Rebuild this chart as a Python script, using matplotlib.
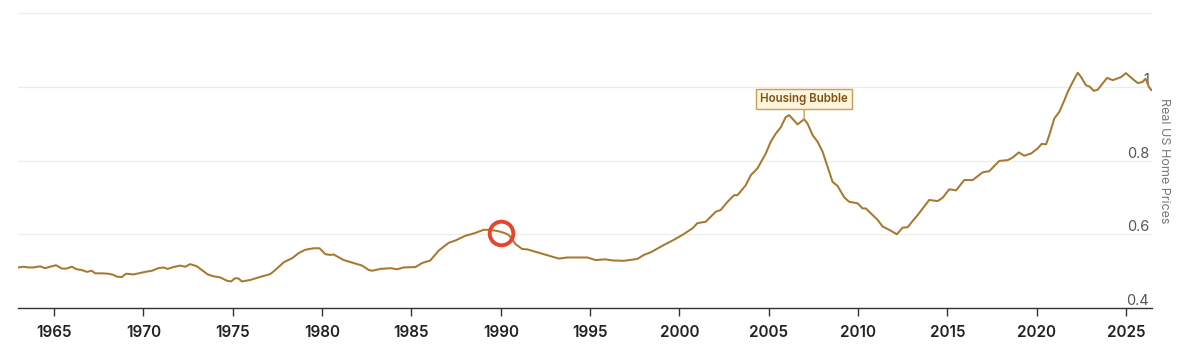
import matplotlib
matplotlib.use("Agg")
import matplotlib.pyplot as plt

years = [1963.00, 1963.28, 1963.56, 1963.84, 1964.22, 1964.50, 1964.78, 1965.11, 1965.43, 1965.71,
         1965.99, 1966.27, 1966.55, 1966.83, 1967.11, 1967.30, 1967.67, 1968.04, 1968.32, 1968.51,
         1968.79, 1969.03, 1969.44, 1969.72, 1970.10, 1970.47, 1970.84, 1971.12, 1971.35, 1971.68,
         1972.06, 1972.34, 1972.62, 1972.99, 1973.30, 1973.60, 1973.92, 1974.30, 1974.67, 1974.90,
         1975.14, 1975.32, 1975.51, 1975.98, 1976.44, 1977.10, 1977.38, 1977.85, 1978.32, 1978.69,
         1979.06, 1979.53, 1979.86, 1980.18, 1980.46, 1980.65, 1981.21, 1981.77, 1982.24, 1982.61,
         1982.80, 1983.26, 1983.82, 1984.20, 1984.57, 1985.22, 1985.60, 1986.06, 1986.53, 1987.09,
         1987.46, 1988.02, 1988.48, 1989.04, 1989.32, 1989.80, 1990.17, 1990.45, 1990.83, 1991.20,
         1991.48, 1992.04, 1992.60, 1993.25, 1993.72, 1994.28, 1994.84, 1995.31, 1995.87, 1996.24,
         1996.89, 1997.64, 1998.01, 1998.39, 1999.13, 1999.69, 2000.16, 2000.73, 2001.00, 2001.47,
         2002.03, 2002.31, 2002.69, 2003.06, 2003.25, 2003.71, 2003.99, 2004.37, 2004.83, 2005.11,
         2005.39, 2005.67, 2005.95, 2006.14, 2006.61, 2006.98, 2007.17, 2007.45, 2007.73, 2008.01,
         2008.29, 2008.57, 2008.85, 2009.22, 2009.50, 2009.97, 2010.25, 2010.43, 2010.81, 2011.09,
         2011.37, 2011.74, 2012.17, 2012.49, 2012.77, 2013.05, 2013.33, 2013.98, 2014.45, 2014.73,
         2015.10, 2015.48, 2015.94, 2016.41, 2016.97, 2017.34, 2017.90, 2018.37, 2018.65, 2018.99,
         2019.30, 2019.68, 2020.05, 2020.27, 2020.52, 2020.70, 2020.98, 2021.26, 2021.54, 2021.73,
         2022.01, 2022.29, 2022.47, 2022.75, 2022.94, 2023.19, 2023.41, 2023.93, 2024.25, 2024.71,
         2024.99, 2025.27, 2025.65, 2025.91, 2026.09, 2026.28, 2026.41]

prices = [0.510, 0.512, 0.510, 0.510, 0.513, 0.508, 0.512, 0.516, 0.507, 0.507,
          0.512, 0.505, 0.503, 0.498, 0.501, 0.494, 0.494, 0.493, 0.490, 0.485,
          0.484, 0.493, 0.491, 0.494, 0.498, 0.501, 0.508, 0.510, 0.506, 0.511,
          0.515, 0.512, 0.519, 0.513, 0.502, 0.491, 0.486, 0.483, 0.474, 0.472,
          0.481, 0.480, 0.472, 0.476, 0.483, 0.492, 0.503, 0.524, 0.535, 0.549,
          0.558, 0.562, 0.562, 0.546, 0.544, 0.545, 0.530, 0.522, 0.515, 0.503,
          0.501, 0.506, 0.508, 0.505, 0.510, 0.511, 0.522, 0.529, 0.556, 0.577,
          0.583, 0.596, 0.602, 0.612, 0.612, 0.609, 0.604, 0.598, 0.573, 0.560,
          0.559, 0.551, 0.543, 0.534, 0.537, 0.537, 0.537, 0.530, 0.532, 0.529,
          0.528, 0.533, 0.544, 0.551, 0.571, 0.585, 0.598, 0.616, 0.630, 0.634,
          0.661, 0.666, 0.688, 0.706, 0.706, 0.733, 0.760, 0.779, 0.819, 0.851,
          0.873, 0.890, 0.918, 0.923, 0.898, 0.912, 0.900, 0.869, 0.851, 0.824,
          0.783, 0.742, 0.731, 0.700, 0.688, 0.684, 0.670, 0.670, 0.652, 0.639,
          0.621, 0.612, 0.600, 0.618, 0.619, 0.636, 0.652, 0.693, 0.690, 0.699,
          0.722, 0.719, 0.747, 0.747, 0.768, 0.771, 0.799, 0.801, 0.808, 0.822,
          0.813, 0.819, 0.833, 0.845, 0.844, 0.869, 0.914, 0.932, 0.963, 0.986,
          1.013, 1.038, 1.027, 1.004, 1.001, 0.989, 0.992, 1.024, 1.018, 1.026,
          1.037, 1.025, 1.010, 1.013, 1.022, 0.999, 0.991]

x_ticks = [1965, 1970, 1975, 1980, 1985, 1990, 1995, 2000, 2005, 2010, 2015, 2020, 2025]
y_ticks = [0.4, 0.6, 0.8, 1.0, 1.2]
y_tick_labels = ["0.4", "0.6", "0.8", "1", ""]

bubble_label = "Housing Bubble"
bubble_point = (2006.98, 0.912)
bubble_text_pos = (2006.98, 0.966)
highlight_point = (1990.0, 0.604)

plt.rcParams['font.family'] = ['Inter', 'DejaVu Sans']

fig = plt.figure(figsize=(11.77, 3.52), dpi=100)
ax = fig.add_axes([0.0153, 0.125, 0.9635, 0.838])

line_color = '#a8782f'
ax.plot(years, prices, color=line_color, lw=1.45, zorder=3)

ax.set_xlim(1962.98, 2026.45)
ax.set_ylim(0.4, 1.2)

ax.set_xticks(x_ticks)
ax.set_xticklabels([str(t) for t in x_ticks], fontsize=11, fontweight='semibold', color='#222222')
ax.tick_params(axis='x', length=6, width=1, color='#333333', pad=6)

ax.set_yticks(y_ticks)
ax.set_yticklabels(y_tick_labels)
ax.yaxis.tick_right()
ax.tick_params(axis='y', length=0, pad=-2, labelsize=10.5, labelcolor='#555555')
for lab in ax.get_yticklabels():
    lab.set_horizontalalignment('right')
    lab.set_verticalalignment('bottom')

ax.grid(axis='y', color='#ececec', lw=0.9)
ax.set_axisbelow(True)
for s in ['top', 'left', 'right']:
    ax.spines[s].set_visible(False)
ax.spines['bottom'].set_color('#333333')
ax.spines['bottom'].set_linewidth(1)

ax.yaxis.set_label_position('right')
ax.set_ylabel("Real US Home Prices", rotation=270, fontsize=9, color='#777777', labelpad=13)

ax.annotate(bubble_label, xy=bubble_point, xytext=bubble_text_pos,
            ha='center', va='center', fontsize=8.3, fontweight='semibold', color='#7a5417',
            bbox=dict(boxstyle='square,pad=0.35', fc='#fff4dc', ec='#c9a050', lw=1),
            arrowprops=dict(arrowstyle='-', color='#c9a050', lw=1, shrinkA=0, shrinkB=0),
            zorder=5)

ax.plot([highlight_point[0]], [highlight_point[1]], marker='o', markersize=17,
        markerfacecolor='none', markeredgecolor='#e8432d', markeredgewidth=2.8, zorder=6)

fig.savefig("out.png", dpi=100)
